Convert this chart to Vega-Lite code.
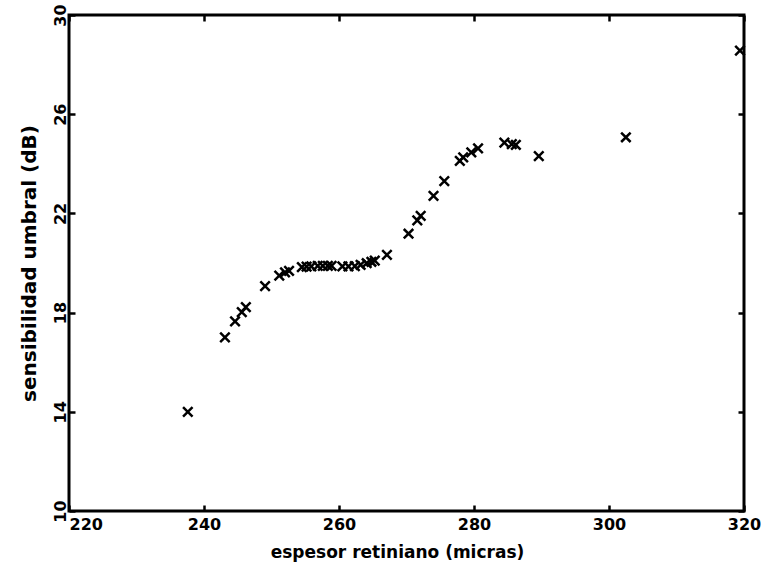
{
  "$schema": "https://vega.github.io/schema/vega-lite/v6.json",
  "width": 675,
  "height": 496,
  "autosize": {"type": "none"},
  "padding": {"left": 69, "top": 15, "right": 20, "bottom": 65},
  "background": "white",
  "config": {
    "view": {"stroke": "black", "strokeWidth": 3},
    "axis": {
      "domain": false,
      "grid": false,
      "ticks": true,
      "tickSize": -6,
      "tickWidth": 2.5,
      "tickColor": "black",
      "labelFont": "DejaVu Sans",
      "labelFontWeight": "bold",
      "labelFontSize": 16,
      "labelColor": "black",
      "titleFont": "DejaVu Sans",
      "titleFontWeight": "bold",
      "titleFontSize": 17,
      "titleColor": "black"
    }
  },
  "data": {
    "values": [
      {"espesor": 237.6, "sensibilidad": 14.0},
      {"espesor": 243.1, "sensibilidad": 17.0},
      {"espesor": 244.6, "sensibilidad": 17.65},
      {"espesor": 245.6, "sensibilidad": 18.02},
      {"espesor": 246.2, "sensibilidad": 18.22},
      {"espesor": 249.05, "sensibilidad": 19.07},
      {"espesor": 251.15, "sensibilidad": 19.49},
      {"espesor": 252.0, "sensibilidad": 19.62},
      {"espesor": 252.6, "sensibilidad": 19.68},
      {"espesor": 254.5, "sensibilidad": 19.83},
      {"espesor": 255.2, "sensibilidad": 19.85},
      {"espesor": 255.9, "sensibilidad": 19.86},
      {"espesor": 256.85, "sensibilidad": 19.88},
      {"espesor": 257.6, "sensibilidad": 19.88},
      {"espesor": 258.35, "sensibilidad": 19.88},
      {"espesor": 258.9, "sensibilidad": 19.88},
      {"espesor": 260.5, "sensibilidad": 19.86},
      {"espesor": 261.4, "sensibilidad": 19.86},
      {"espesor": 262.35, "sensibilidad": 19.87},
      {"espesor": 263.2, "sensibilidad": 19.92},
      {"espesor": 264.1, "sensibilidad": 19.99},
      {"espesor": 264.8, "sensibilidad": 20.05},
      {"espesor": 265.3, "sensibilidad": 20.1},
      {"espesor": 267.1, "sensibilidad": 20.33},
      {"espesor": 270.3, "sensibilidad": 21.18},
      {"espesor": 271.6, "sensibilidad": 21.72},
      {"espesor": 272.1, "sensibilidad": 21.9},
      {"espesor": 274.0, "sensibilidad": 22.71},
      {"espesor": 275.6, "sensibilidad": 23.3},
      {"espesor": 277.9, "sensibilidad": 24.12},
      {"espesor": 278.4, "sensibilidad": 24.26},
      {"espesor": 279.6, "sensibilidad": 24.46},
      {"espesor": 280.6, "sensibilidad": 24.62},
      {"espesor": 284.5, "sensibilidad": 24.85},
      {"espesor": 285.6, "sensibilidad": 24.79},
      {"espesor": 286.2, "sensibilidad": 24.76},
      {"espesor": 289.6, "sensibilidad": 24.31},
      {"espesor": 302.5, "sensibilidad": 25.07},
      {"espesor": 319.4, "sensibilidad": 28.56}
    ]
  },
  "layer": [
    {
      "mark": {"type": "point", "shape": "M-1,-1L1,1M-1,1L1,-1", "filled": false, "stroke": "black", "strokeWidth": 2.5, "size": 90, "opacity": 1},
      "encoding": {
        "x": {
          "field": "espesor", "type": "quantitative",
          "scale": {"domain": [220, 320], "nice": false, "zero": false},
          "axis": {
            "orient": "bottom",
            "values": [220, 240, 260, 280, 300, 320],
            "title": "espesor retiniano (micras)",
            "labelPadding": 11,
            "labelAlign": {"condition": {"test": "datum.value == 220", "value": "left"}, "value": "center"},
            "titlePadding": 12,
            "titleX": 328
          }
        },
        "y": {
          "field": "sensibilidad", "type": "quantitative",
          "scale": {"domain": [10, 30], "nice": false, "zero": false},
          "axis": {
            "orient": "left",
            "values": [10, 14, 18, 22, 26, 30],
            "title": "sensibilidad umbral (dB)",
            "labelAngle": -90,
            "labelAlign": "center",
            "labelBaseline": "bottom",
            "labelPadding": 7,
            "titlePadding": 13,
            "titleFontSize": 20
          }
        }
      }
    },
    {
      "mark": {"type": "point", "opacity": 0},
      "encoding": {
        "x": {
          "field": "espesor", "type": "quantitative",
          "scale": {"domain": [220, 320], "nice": false, "zero": false},
          "axis": {"orient": "top", "values": [220, 240, 260, 280, 300, 320], "labels": false, "title": null}
        },
        "y": {
          "field": "sensibilidad", "type": "quantitative",
          "scale": {"domain": [10, 30], "nice": false, "zero": false},
          "axis": {"orient": "right", "values": [10, 14, 18, 22, 26, 30], "labels": false, "title": null}
        }
      }
    }
  ],
  "resolve": {"axis": {"x": "independent", "y": "independent"}}
}
